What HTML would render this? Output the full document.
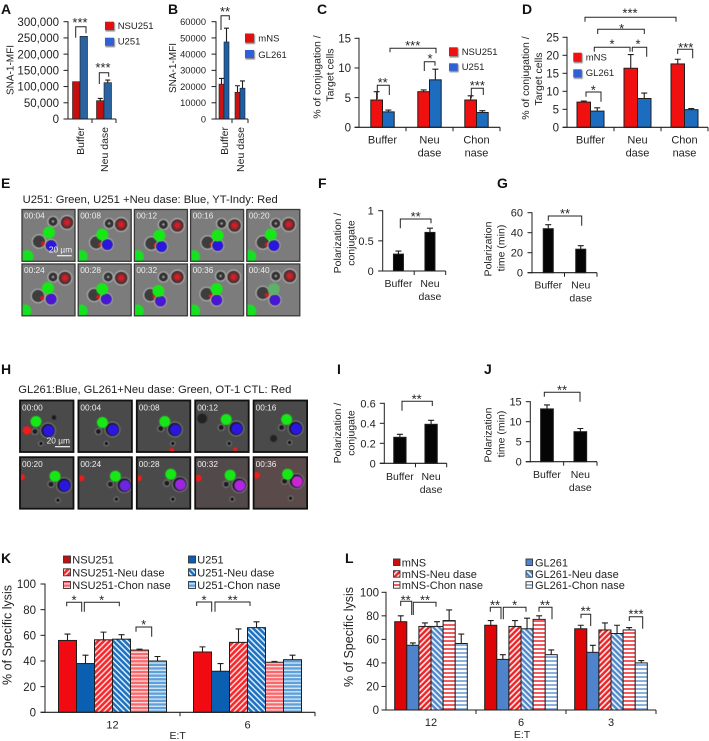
<!DOCTYPE html>
<html lang="en">
<head>
<meta charset="utf-8">
<title>Multi-panel lysis and conjugation figure</title>
<style>
html,body{margin:0;padding:0;background:#fff;width:709px;height:741px;overflow:hidden}
svg{display:block;filter:blur(0.35px)}
text{font-family:"Liberation Sans",Arial,sans-serif;fill:#222}
</style>
</head>
<body>
<svg id="fig" xmlns="http://www.w3.org/2000/svg" width="709" height="741" viewBox="0 0 709 741">
<defs>
<pattern id="hRedDiag" width="4" height="4" patternUnits="userSpaceOnUse" patternTransform="rotate(45)"><rect width="4" height="4" fill="#f6282c"/><rect width="1.5" height="4" fill="#ffd8d8"/></pattern>
<pattern id="hBlueDiag" width="4" height="4" patternUnits="userSpaceOnUse" patternTransform="rotate(-45)"><rect width="4" height="4" fill="#1f70bd"/><rect width="1.5" height="4" fill="#d8ecff"/></pattern>
<pattern id="hRedH" width="4" height="3.6" patternUnits="userSpaceOnUse"><rect width="4" height="3.6" fill="#f9686c"/><rect width="4" height="1.3" fill="#ffd9d9"/></pattern>
<pattern id="hBlueH" width="4" height="3.6" patternUnits="userSpaceOnUse"><rect width="4" height="3.6" fill="#5ea0da"/><rect width="4" height="1.3" fill="#d6e9f8"/></pattern>
<pattern id="lRedDiag" width="4" height="4" patternUnits="userSpaceOnUse" patternTransform="rotate(45)"><rect width="4" height="4" fill="#ee2024"/><rect width="1.7" height="4" fill="#ffe4e4"/></pattern>
<pattern id="lBlueDiag" width="4" height="4" patternUnits="userSpaceOnUse" patternTransform="rotate(-45)"><rect width="4" height="4" fill="#4f86ca"/><rect width="1.7" height="4" fill="#eaf2fb"/></pattern>
<pattern id="lRedH" width="4" height="4" patternUnits="userSpaceOnUse"><rect width="4" height="4" fill="#fff"/><rect width="4" height="2" fill="#f45a5e"/></pattern>
<pattern id="lBlueH" width="4" height="4" patternUnits="userSpaceOnUse"><rect width="4" height="4" fill="#fff"/><rect width="4" height="2" fill="#8bb0dc"/></pattern>
<filter id="soft" x="-30%" y="-30%" width="160%" height="160%"><feGaussianBlur stdDeviation="0.6"/></filter>
<filter id="softer" x="-40%" y="-40%" width="180%" height="180%"><feGaussianBlur stdDeviation="1"/></filter>
</defs>
</svg>
<script>
// ---------- Chart data ----------
const aCategories = ["Buffer", "Neu dase"];
const aNsu = [115000, 56500];
const aNsuErr = [0, 7000];
const aU = [255000, 112000];
const aUErr = [0, 8000];
const aTicks = [0, 50000, 100000, 150000, 200000, 250000, 300000];

const bCategories = ["Buffer", "Neu dase"];
const bMns = [21500, 16500];
const bMnsErr = [3500, 4000];
const bGl = [47500, 19000];
const bGlErr = [8500, 4500];
const bTicks = [0, 10000, 20000, 30000, 40000, 50000, 60000];

const cCategories = ["Buffer", "Neu dase", "Chon nase"];
const cNsu = [4.6, 6, 4.6];
const cNsuErr = [1.4, 0.3, 0.7];
const cU = [2.6, 8, 2.5];
const cUErr = [0.3, 1.8, 0.3];
const cTicks = [0, 5, 10, 15];

const dCategories = ["Buffer", "Neu dase", "Chon nase"];
const dMns = [7, 16.4, 17.6];
const dMnsErr = [0.3, 3.8, 1.3];
const dGl = [4.5, 8, 4.9];
const dGlErr = [0.9, 1.5, 0.3];
const dTicks = [0, 5, 10, 15, 20, 25];

const fCategories = ["Buffer", "Neu dase"];
const fValues = [0.28, 0.64];
const fErr = [0.05, 0.07];
const fTicks = [0, 0.5, 1];

const gCategories = ["Buffer", "Neu dase"];
const gValues = [44, 23.5];
const gErr = [4, 3.5];
const gTicks = [0, 20, 40, 60];

const iCategories = ["Buffer", "Neu dase"];
const iValues = [0.26, 0.39];
const iErr = [0.03, 0.04];
const iTicks = [0, 0.2, 0.4, 0.6];

const jCategories = ["Buffer", "Neu dase"];
const jValues = [13.2, 7.5];
const jErr = [1, 0.8];
const jTicks = [0, 5, 10, 15];

const kCategories = ["12", "6"];
const kNsu = [56, 47];
const kNsuErr = [5, 4];
const kU = [38, 32];
const kUErr = [6.5, 6];
const kNsuNeu = [56.5, 54.5];
const kNsuNeuErr = [6, 10.5];
const kUNeu = [57, 66];
const kUNeuErr = [3.5, 4.5];
const kNsuChon = [48.5, 39];
const kNsuChonErr = [0.7, 0.7];
const kUChon = [40, 41];
const kUChonErr = [3.5, 3.5];
const kTicks = [0, 20, 40, 60, 80, 100];

const lCategories = ["12", "6", "3"];
const lMns = [75, 72, 69];
const lMnsErr = [5, 4, 3];
const lGl = [55, 43, 49];
const lGlErr = [2, 4, 6];
const lMnsNeu = [71, 71, 68];
const lMnsNeuErr = [3, 5, 6];
const lGlNeu = [71, 69, 65];
const lGlNeuErr = [4, 9, 7];
const lMnsChon = [76, 77, 68];
const lMnsChonErr = [9, 3, 2];
const lGlChon = [56.5, 47, 40];
const lGlChonErr = [8, 4, 2];
const lTicks = [0, 20, 40, 60, 80, 100];

// ---------- Drawing helpers ----------
const NS = "http://www.w3.org/2000/svg";
const fig = document.getElementById("fig");

function mk(tag, parent, name, attrs) {
  const el = document.createElementNS(NS, tag);
  
  
  for (const k in attrs) el.setAttribute(k, attrs[k]);
  parent.appendChild(el);
  return el;
}
function txt(parent, name, str, x, y, size, opts) {
  const o = opts || {};
  const attrs = { x: x, y: y, "font-size": size };
  if (o.anchor) attrs["text-anchor"] = o.anchor;
  if (o.weight) attrs["font-weight"] = o.weight;
  if (o.fill) attrs.style = "fill:" + o.fill;
  if (o.rotate) attrs.transform = "rotate(-90 " + x + " " + y + ")";
  if (o.len) { attrs.textLength = o.len; attrs.lengthAdjust = "spacingAndGlyphs"; }
  const t = mk("text", parent, name, attrs);
  t.textContent = str;
  return t;
}
function slug(s) { return String(s).toLowerCase().replace(/[^a-z0-9]+/g, "-"); }

function barChart(cfg) {
  const g = mk("g", fig, cfg.id + "-chart", {});
  const yOf = v => cfg.y0 + (v / cfg.max) * (cfg.y1 - cfg.y0);
  const band = (cfg.x1 - cfg.x0) / cfg.categories.length;
  const xC = i => cfg.x0 + band * (i + 0.5);
  const n = cfg.series.length;
  const ink = cfg.ink || "#1e1e1e";
  const tickLen = 4.5;
  const gap = cfg.tickGap === undefined ? 9 : cfg.tickGap;

  cfg.series.forEach((s, si) => {
    s.values.forEach((v, i) => {
      const bx = xC(i) + (si - n / 2) * cfg.barW;
      const top = yOf(v);
      const barName = cfg.id + "-bar-" + slug(s.name) + "-" + slug(cfg.categories[i]);
      mk("rect", g, barName, { x: bx, y: top, width: cfg.barW, height: yOf(0) - top, fill: s.fill, stroke: ink, "stroke-width": cfg.barStroke === undefined ? 1 : cfg.barStroke });
      const e = s.err[i];
      if (e > 0) {
        const cx = bx + cfg.barW / 2;
        const ye = yOf(v + e);
        const capW = cfg.capW || 6;
        mk("path", g, barName + "-error-bar", { d: "M" + cx + " " + top + "V" + ye + "M" + (cx - capW / 2) + " " + ye + "H" + (cx + capW / 2), stroke: ink, "stroke-width": 1.1, fill: "none" });
      }
    });
  });

  // axes
  mk("path", g, cfg.id + "-y-axis", { d: "M" + cfg.x0 + " " + (cfg.y1 - 0.5) + "V" + (cfg.y0 + 0.5), stroke: ink, "stroke-width": 1, fill: "none" });
  mk("path", g, cfg.id + "-x-axis", { d: "M" + (cfg.x0 - tickLen) + " " + cfg.y0 + "H" + cfg.x1, stroke: ink, "stroke-width": 1.1, fill: "none" });
  cfg.ticks.forEach(t => {
    const y = yOf(t);
    mk("path", g, cfg.id + "-y-tick-" + slug(t), { d: "M" + (cfg.x0 - tickLen) + " " + y + "H" + cfg.x0, stroke: ink, "stroke-width": 1, fill: "none" });
    const label = cfg.format ? cfg.format(t) : String(t);
    txt(g, cfg.id + "-y-tick-label-" + slug(t), label, cfg.x0 - gap, y + cfg.tickSize * 0.36, cfg.tickSize, { anchor: "end" });
  });
  cfg.categories.forEach((c, i) => {
    const tx = cfg.x0 + band * (i + 1);
    mk("path", g, cfg.id + "-x-tick-" + i, { d: "M" + tx + " " + cfg.y0 + "v4", stroke: ink, "stroke-width": 1, fill: "none" });
    const nm = cfg.id + "-category-" + slug(c);
    const cx = xC(i);
    if (cfg.rotateCats) {
      txt(g, nm, c, cx + 4, cfg.y0 + 8, cfg.catSize, { anchor: "end", rotate: true });
    } else if (cfg.wrapCats) {
      const parts = c.split(" ");
      parts.forEach((p, k) => {
        txt(g, nm + "-line-" + k, p, cx, cfg.y0 + cfg.catDy + k * 13, cfg.catSize, { anchor: "middle" });
      });
    } else {
      txt(g, nm, c, cx, cfg.y0 + cfg.catDy, cfg.catSize, { anchor: "middle" });
    }
  });
  return g;
}
function bracket(name, x1, x2, yTop, yL, yR, stars, sx, sy) {
  const g = mk("g", fig, name, {});
  mk("path", g, name + "-line", { d: "M" + x1 + " " + yL + "V" + yTop + "H" + x2 + "V" + yR, stroke: "#222", "stroke-width": 1, fill: "none" });
  txt(g, name + "-stars", stars, sx, sy + 7, 13, { anchor: "middle" });
}
function legendEntry(name, label, sx, sy, sw, sh, fill, tx, ty, size, shadow) {
  const g = mk("g", fig, name, {});
  if (shadow) mk("rect", g, name + "-swatch-shadow", { x: sx + 0.5, y: sy + 1, width: sw + 0.5, height: sh + 0.5, fill: "#888", filter: "url(#soft)" });
  mk("rect", g, name + "-swatch", { x: sx, y: sy, width: sw, height: sh, fill: fill, stroke: shadow ? "none" : "#333", "stroke-width": 0.9 });
  txt(g, name + "-label", label, tx, ty, size);
}
function rotLabel(name, str, xBase, yCenter, size) {
  txt(fig, name, str, xBase, yCenter, size, { anchor: "middle", rotate: true });
}
function letter(ch, x, y) {
  txt(fig, "panel-letter-" + ch.toLowerCase(), ch, x, y, 14, { weight: "bold", fill: "#111" });
}

// ---------- Microscopy frames ----------
let clipCount = 0;
function frame(set, idx, x, y, w, h, cfg, c) {
  const name = set + "-frame-" + c.t.replace(":", "-");
  const g = mk("g", fig, name, {});
  const cid = "clip" + (clipCount++);
  const cp = mk("clipPath", g, name + "-clip", { id: cid });
  mk("rect", cp, name + "-clip-rect", { x: x, y: y, width: w, height: h });
  mk("rect", g, name + "-background", { x: x, y: y, width: w, height: h, fill: c.bg || cfg.bg });
  const inner = mk("g", g, name + "-cells", { "clip-path": "url(#" + cid + ")" });
  const blob = (nm, cx, cy, r, fill, extra) => {
    const a = { cx: x + cx, cy: y + cy, r: r, fill: fill, filter: "url(#soft)" };
    if (extra) for (const k in extra) a[k] = extra[k];
    mk("circle", inner, name + "-" + nm, a);
  };
  (c.extras || []).forEach((e, i) => blob("extra-" + i, e[0], e[1], e[2], e[3]));
  // small dark cell
  blob("small-cell", c.s[0], c.s[1], cfg.sr, cfg.sFill, { stroke: cfg.ring, "stroke-width": 0.7 });
  if (cfg.sInner) blob("small-cell-core", c.s[0], c.s[1], 1.2, "#aaa");
  // effector cell
  blob("effector-cell", c.d[0], c.d[1], cfg.dr, cfg.dFill, { stroke: cfg.ring, "stroke-width": 0.7 });
  if (cfg.redInDark) blob("effector-granule", c.d[0] + 4, c.d[1] + 2, 2, "#e01818");
  // target cells
  blob("blue-cell-body", c.b[0], c.b[1], cfg.br, cfg.bFill, { stroke: cfg.ring, "stroke-width": 0.7 });
  blob("blue-cell-dye", c.b[0] + cfg.bOff, c.b[1] + cfg.bOff * 0.6, cfg.br - cfg.bIn, c.bc || "#2a18e0");
  blob("green-cell", c.g[0], c.g[1], cfg.gr, c.gc || "#18e818");
  if (c.r) blob("red-cell", c.r[0], c.r[1], c.r[2] || 7, c.r[2] ? "#f01c1c" : cfg.redFill, c.r[2] ? null : { stroke: cfg.ring, "stroke-width": 0.7 });
  if (c.rCore) mk("circle", inner, name + "-red-core", { cx: x + c.r[0], cy: y + c.r[1], r: 3.6, fill: "#d81c28", filter: "url(#softer)" });
  if (c.corner) blob("corner-green", c.corner[0], c.corner[1], 6.5, "#18e020");
  mk("rect", g, name + "-border", { x: x, y: y, width: w, height: h, fill: "none", stroke: cfg.border, "stroke-width": cfg.bw });
  txt(g, name + "-time", c.t, x + 2, y + cfg.ty, 8.3, { fill: "#eeeeee" });
}

const eCfg = { bg: "#7c7c7c", border: "#3a3a3a", bw: 1.3, ring: "#cfcfcf", sFill: "#333", dFill: "#3c3c3c", bFill: "#2a2a40", sr: 5.2, dr: 6.8, br: 6, bIn: 0.8, bOff: 0.3, gr: 6, ty: 9, sInner: true, redInDark: true, redFill: "#4a3232" };
const eFrames = [
  { t: "00:04", g: [27, 23], b: [29, 36], d: [17, 32], s: [31, 12], r: [45, 13], rCore: 1, corner: [5, 47] },
  { t: "00:08", g: [24, 25], b: [29, 35], d: [18, 33], s: [31, 14], r: [43, 15], rCore: 1, corner: [3, 47] },
  { t: "00:12", g: [25, 26], b: [27, 37], d: [17, 34], s: [29, 15], r: [43, 16], rCore: 1, corner: [3, 47] },
  { t: "00:16", g: [27, 26], b: [27, 36], d: [17, 33], s: [31, 14], r: [44, 16], rCore: 1, corner: [3, 47] },
  { t: "00:20", g: [24, 25], b: [27, 36], d: [16, 33], s: [29, 14], r: [42, 15], rCore: 1, corner: [3, 47] },
  { t: "00:24", g: [26, 24], b: [29, 35], d: [16, 32], s: [31, 13], r: [43, 14], rCore: 1, corner: [3, 47], bc: "#4a18d8" },
  { t: "00:28", g: [24, 25], b: [28, 35], d: [16, 31], s: [30, 13], r: [43, 14], rCore: 1, corner: [3, 47], bc: "#4a18d8" },
  { t: "00:32", g: [24, 27], b: [26, 37], d: [16, 31], s: [29, 13], r: [43, 13], rCore: 1, corner: [3, 47], bc: "#4a18d8" },
  { t: "00:36", g: [26, 25], b: [26, 36], d: [16, 30], s: [30, 12], r: [43, 13], rCore: 1, corner: [3, 47], bc: "#4a18d8" },
  { t: "00:40", g: [27, 25], b: [28, 36], d: [16, 29], s: [29, 12], r: [43, 12], rCore: 1, corner: [3, 47], gc: "#5eb06a", bc: "#4a18d8" }
];
eFrames.forEach((f, i) => {
  const col = i % 5, row = Math.floor(i / 5);
  frame("e", i, 22 + col * 56.2, 209.5 + row * 54.5, 53, 51.8, eCfg, f);
});

const hCfg = { bg: "#4a4a4a", border: "#111", bw: 1.8, ring: "#8c8c8c", sFill: "#0c0c0c", dFill: "#1c1c1c", bFill: "#1c1c28", sr: 2.3, dr: 3.2, br: 7.5, bIn: 2, bOff: 0.7, gr: 5.5, ty: 10, sInner: false, redInDark: false, redFill: "#f01818" };
const hFrames = [
  { t: "00:00", g: [16, 21], b: [28, 30], d: [15, 31], s: [21, 43], r: [7, 30, 4.2], extras: [[34, 17, 2.2, "#181818"]] },
  { t: "00:04", g: [24, 22], b: [34, 29], d: [20, 31], s: [28, 43] },
  { t: "00:08", g: [28, 21], b: [38, 29], d: [24, 28], s: [36, 43], r: [35, 50, 2.5] },
  { t: "00:12", g: [31, 19], b: [41, 28], d: [26, 27], s: [34, 43], r: [40, 49, 2], extras: [[7, 18, 5, "#222"]] },
  { t: "00:16", g: [33, 19], b: [42, 28], d: [28, 27], s: [36, 42], extras: [[20, 38, 3.5, "#222"]] },
  { t: "00:20", g: [35, 19], b: [44, 28], d: [31, 27], s: [38, 43], r: [2, 20, 3] },
  { t: "00:24", g: [37, 19], b: [46, 28], d: [32, 27], s: [38, 42], r: [3, 21, 3], bc: "#6a28e0" },
  { t: "00:28", g: [34, 17], b: [43, 27], d: [30, 26], s: [36, 42], r: [2, 21, 3], bc: "#9a28e0" },
  { t: "00:32", g: [35, 18], b: [44, 28], d: [31, 27], s: [37, 42], r: [3, 21, 3.4], bc: "#b028e0", bg: "#524a4a" },
  { t: "00:36", g: [34, 17], b: [43, 24], d: [31, 24], s: [37, 41], r: [3, 18, 3.4], bc: "#c828d0", bg: "#5a4a4a" }
];
hFrames.forEach((f, i) => {
  const col = i % 5, row = Math.floor(i / 5);
  frame("h", i, 20 + col * 58.4, 400.5 + row * 56.7, 53.5, 51.5, hCfg, f);
});

// scale bars
mk("path", fig, "e-scale-bar", { d: "M57 255.7H71.7", stroke: "#f2f2f2", "stroke-width": 1.2, fill: "none" });
txt(fig, "e-scale-bar-label", "20 µm", 60.5, 252.7, 8.3, { anchor: "middle", fill: "#f2f2f2" });
mk("path", fig, "h-scale-bar", { d: "M55 446.7H70", stroke: "#f2f2f2", "stroke-width": 1.2, fill: "none" });
txt(fig, "h-scale-bar-label", "20 µm", 58.3, 443.7, 8.3, { anchor: "middle", fill: "#f2f2f2" });

txt(fig, "e-title", "U251: Green, U251 +Neu dase: Blue, YT-Indy: Red", 22.7, 203, 11, { len: 255 });
txt(fig, "h-title", "GL261:Blue, GL261+Neu dase: Green, OT-1 CTL: Red", 18.3, 393, 11, { len: 273 });

// ---------- Charts ----------
const RA = "#c40f0f", BA = "#2b63a0";
barChart({ id: "a", x0: 68, x1: 116, y0: 119, y1: 21.7, max: 300000, ticks: aTicks, tickSize: 11.5, tickGap: 9, format: v => v.toLocaleString("en-US"), categories: aCategories, rotateCats: true, catSize: 10.5, barW: 7.5, capW: 5, barStroke: 0.6,
  series: [{ name: "NSU251", values: aNsu, err: aNsuErr, fill: RA }, { name: "U251", values: aU, err: aUErr, fill: BA }] });
barChart({ id: "b", x0: 216, x1: 248, y0: 119, y1: 21.7, max: 60000, ticks: bTicks, tickSize: 9.3, tickGap: 10, categories: bCategories, rotateCats: true, catSize: 10.5, barW: 5, capW: 5, barStroke: 0.6,
  series: [{ name: "mNS", values: bMns, err: bMnsErr, fill: "#c81414" }, { name: "GL261", values: bGl, err: bGlErr, fill: "#1c5fa5" }] });
barChart({ id: "c", x0: 359, x1: 500, y0: 127.3, y1: 38.3, max: 15, ticks: cTicks, tickSize: 11.5, tickGap: 8, categories: cCategories, wrapCats: true, catDy: 16, catSize: 11, barW: 11.7, capW: 6,
  series: [{ name: "NSU251", values: cNsu, err: cNsuErr, fill: "#f01010" }, { name: "U251", values: cU, err: cUErr, fill: "#1c6cc0" }] });
barChart({ id: "d", x0: 567, x1: 708, y0: 127.3, y1: 37.3, max: 25, ticks: dTicks, tickSize: 11.5, tickGap: 8, categories: dCategories, wrapCats: true, catDy: 16, catSize: 11, barW: 13.5, capW: 6,
  series: [{ name: "mNS", values: dMns, err: dMnsErr, fill: "#f01010" }, { name: "GL261", values: dGl, err: dGlErr, fill: "#1c6cc0" }] });
barChart({ id: "f", x0: 382.7, x1: 445.7, y0: 271, y1: 210.7, max: 1, ticks: fTicks, tickSize: 11, tickGap: 9, categories: fCategories, wrapCats: true, catDy: 16, catSize: 10.5, barW: 10, capW: 6,
  series: [{ name: "Polarization", values: fValues, err: fErr, fill: "#050505" }] });
barChart({ id: "g", x0: 532, x1: 597, y0: 272.7, y1: 212.7, max: 60, ticks: gTicks, tickSize: 11, tickGap: 9, categories: gCategories, wrapCats: true, catDy: 16, catSize: 10.5, barW: 10, capW: 6,
  series: [{ name: "Polarization time", values: gValues, err: gErr, fill: "#050505" }] });
barChart({ id: "i", x0: 384.3, x1: 446.7, y0: 463.3, y1: 403.3, max: 0.6, ticks: iTicks, tickSize: 11, tickGap: 8.6, categories: iCategories, wrapCats: true, catDy: 16.5, catSize: 10.5, barW: 12.3, capW: 6,
  series: [{ name: "Polarization", values: iValues, err: iErr, fill: "#050505" }] });
barChart({ id: "j", x0: 530.3, x1: 597, y0: 461.7, y1: 401.7, max: 15, ticks: jTicks, tickSize: 11, tickGap: 8.6, categories: jCategories, wrapCats: true, catDy: 16.5, catSize: 10.5, barW: 12.7, capW: 6,
  series: [{ name: "Polarization time", values: jValues, err: jErr, fill: "#050505" }] });
barChart({ id: "k", x0: 45, x1: 315, y0: 712.3, y1: 584, max: 100, ticks: kTicks, tickSize: 11.5, tickGap: 9, categories: kCategories, catDy: 16, catSize: 11, barW: 18, capW: 6,
  series: [
    { name: "NSU251", values: kNsu, err: kNsuErr, fill: "#f20a12" },
    { name: "U251", values: kU, err: kUErr, fill: "#0a5fb2" },
    { name: "NSU251-Neu dase", values: kNsuNeu, err: kNsuNeuErr, fill: "url(#hRedDiag)" },
    { name: "U251-Neu dase", values: kUNeu, err: kUNeuErr, fill: "url(#hBlueDiag)" },
    { name: "NSU251-Chon nase", values: kNsuChon, err: kNsuChonErr, fill: "url(#hRedH)" },
    { name: "U251-Chon nase", values: kUChon, err: kUChonErr, fill: "url(#hBlueH)" }
  ] });
barChart({ id: "l", x0: 386, x1: 656, y0: 710, y1: 592.3, max: 100, ticks: lTicks, tickSize: 11.5, tickGap: 7, categories: lCategories, catDy: 16, catSize: 11, barW: 12.1, capW: 6,
  series: [
    { name: "mNS", values: lMns, err: lMnsErr, fill: "#dd0505" },
    { name: "GL261", values: lGl, err: lGlErr, fill: "#4f84cc" },
    { name: "mNS-Neu dase", values: lMnsNeu, err: lMnsNeuErr, fill: "url(#lRedDiag)" },
    { name: "GL261-Neu dase", values: lGlNeu, err: lGlNeuErr, fill: "url(#lBlueDiag)" },
    { name: "mNS-Chon nase", values: lMnsChon, err: lMnsChonErr, fill: "url(#lRedH)" },
    { name: "GL261-Chon nase", values: lGlChon, err: lGlChonErr, fill: "url(#lBlueH)" }
  ] });

// ---------- Axis titles ----------
rotLabel("a-y-axis-title", "SNA-1-MFI", 13.5, 70, 10);
rotLabel("b-y-axis-title", "SNA-1-MFI", 176, 68, 10);
rotLabel("c-y-axis-title-line-1", "% of conjugation /", 320.5, 77, 10.5);
rotLabel("c-y-axis-title-line-2", "Target cells", 333.5, 75, 10.5);
rotLabel("d-y-axis-title-line-1", "% of conjugation /", 529, 78, 10.5);
rotLabel("d-y-axis-title-line-2", "Target cells", 542, 79, 10.5);
rotLabel("f-y-axis-title-line-1", "Polarization /", 341, 243, 10.5);
rotLabel("f-y-axis-title-line-2", "conjugate", 354.5, 243, 10.5);
rotLabel("g-y-axis-title-line-1", "Polarization", 491.5, 249, 10.5);
rotLabel("g-y-axis-title-line-2", "time (min)", 504.5, 248, 10.5);
rotLabel("i-y-axis-title-line-1", "Polarization /", 341, 433, 10.5);
rotLabel("i-y-axis-title-line-2", "conjugate", 354.5, 433, 10.5);
rotLabel("j-y-axis-title-line-1", "Polarization", 491.5, 435, 10.5);
rotLabel("j-y-axis-title-line-2", "time (min)", 504.5, 434, 10.5);
rotLabel("k-y-axis-title", "% of Specific lysis", 11.5, 635, 12.5);
rotLabel("l-y-axis-title", "% of Specific lysis", 353, 637, 12.5);
txt(fig, "k-x-axis-title", "E:T", 177.7, 739, 10.5, { anchor: "middle" });
txt(fig, "l-x-axis-title", "E:T", 522, 738, 10.5, { anchor: "middle" });

// ---------- Panel letters ----------
letter("A", 1, 14); letter("B", 168, 14); letter("C", 317, 14); letter("D", 522, 14);
letter("E", 1, 188); letter("F", 318, 188); letter("G", 497, 188);
letter("H", 1, 374); letter("I", 337, 374); letter("J", 484, 374);
letter("K", 1, 563); letter("L", 345, 563);

// ---------- Legends ----------
legendEntry("a-legend-nsu251", "NSU251", 105, 21.7, 9, 8.3, "#e01010", 117.7, 29, 9.5, true);
legendEntry("a-legend-u251", "U251", 105, 37.7, 9, 8, "#2f60d8", 117.7, 44.5, 9.5, true);
legendEntry("b-legend-mns", "mNS", 245, 33.5, 9, 9, "#e01010", 258.3, 41.7, 9.5, true);
legendEntry("b-legend-gl261", "GL261", 245, 50, 9, 8, "#2f60d8", 258.3, 58, 9.5, true);
legendEntry("c-legend-nsu251", "NSU251", 449, 47.3, 8.7, 8.7, "#f01010", 461.7, 55, 9.5, true);
legendEntry("c-legend-u251", "U251", 449, 63.3, 8.7, 7.5, "#2f60d8", 461.7, 70, 9.5, true);
legendEntry("d-legend-mns", "mNS", 573.3, 52.7, 8.4, 9, "#f01010", 585.7, 60.3, 9.5, true);
legendEntry("d-legend-gl261", "GL261", 573.3, 69.3, 8.4, 8, "#2f60d8", 585.7, 76, 9.5, true);

const kRows = [559.5, 572.3, 585];
legendEntry("k-legend-nsu251", "NSU251", 63.5, kRows[0] - 3.5, 7, 7, "#c01010", 72.3, kRows[0] + 4, 11);
legendEntry("k-legend-nsu251-neu", "NSU251-Neu dase", 63.5, kRows[1] - 3.5, 7, 7, "url(#hRedDiag)", 72.3, kRows[1] + 4, 11);
legendEntry("k-legend-nsu251-chon", "NSU251-Chon nase", 63.5, kRows[2] - 3.5, 7, 7, "url(#hRedH)", 72.3, kRows[2] + 4, 11);
legendEntry("k-legend-u251", "U251", 188.5, kRows[0] - 3.5, 7, 7, "#0a5fb2", 197.3, kRows[0] + 4, 11);
legendEntry("k-legend-u251-neu", "U251-Neu dase", 188.5, kRows[1] - 3.5, 7, 7, "url(#hBlueDiag)", 197.3, kRows[1] + 4, 11);
legendEntry("k-legend-u251-chon", "U251-Chon nase", 188.5, kRows[2] - 3.5, 7, 7, "url(#hBlueH)", 197.3, kRows[2] + 4, 11);

const lRows = [562.3, 574, 585];
legendEntry("l-legend-mns", "mNS", 393.5, lRows[0] - 3.3, 6.5, 6.5, "#c81010", 401.7, lRows[0] + 4, 11);
legendEntry("l-legend-mns-neu", "mNS-Neu dase", 393.5, lRows[1] - 3.3, 6.5, 6.5, "url(#lRedDiag)", 401.7, lRows[1] + 4, 11);
legendEntry("l-legend-mns-chon", "mNS-Chon nase", 393.5, lRows[2] - 3.3, 6.5, 6.5, "url(#lRedH)", 401.7, lRows[2] + 4, 11);
legendEntry("l-legend-gl261", "GL261", 526, lRows[0] - 3.3, 6.5, 6.5, "#4f84cc", 535, lRows[0] + 4, 11);
legendEntry("l-legend-gl261-neu", "GL261-Neu dase", 526, lRows[1] - 3.3, 6.5, 6.5, "url(#lBlueDiag)", 535, lRows[1] + 4, 11);
legendEntry("l-legend-gl261-chon", "GL261-Chon nase", 526, lRows[2] - 3.3, 6.5, 6.5, "url(#lBlueH)", 535, lRows[2] + 4, 11);

// ---------- Significance brackets ----------
bracket("a-sig-buffer", 75.7, 86, 26.7, 37.7, 33.3, "***", 80, 20);
bracket("a-sig-neu", 99.3, 108.7, 72.7, 84, 76.7, "***", 103, 65);
bracket("b-sig-buffer", 221, 229.3, 15.7, 30, 20, "**", 225, 9);
bracket("c-sig-buffer-neu", 390, 436, 48.3, 52.3, 53.3, "***", 412.7, 43);
bracket("c-sig-neu", 424.3, 435, 61.7, 71, 65.7, "*", 430, 56);
bracket("c-sig-buffer", 377.3, 389.3, 85.3, 99, 95, "**", 382.7, 80);
bracket("c-sig-chon", 471.3, 483.3, 88.3, 98.3, 95, "***", 477.3, 83);
bracket("d-sig-mns-chon", 585, 676, 17.3, 21.7, 21.7, "***", 630, 10.7);
bracket("d-sig-gl-neu", 597.7, 644.3, 29.3, 34, 34, "*", 621.7, 26);
bracket("d-sig-mns-neu", 594.3, 630, 47.3, 51.7, 51.7, "*", 612, 41.7);
bracket("d-sig-neu", 632.3, 646.7, 47.3, 51.7, 56.7, "*", 638, 41.7);
bracket("d-sig-chon", 677.7, 692.7, 49.3, 54, 58.3, "***", 685.7, 45);
bracket("d-sig-buffer", 586, 601, 92, 96.7, 101.7, "*", 593.3, 87.7);
bracket("f-sig", 400.3, 431, 219, 228.3, 223.3, "**", 415.7, 214);
bracket("g-sig", 548.3, 581.7, 216, 220.7, 225.7, "**", 565, 211);
bracket("i-sig", 402, 432.3, 401.3, 410.7, 406, "**", 416.7, 396.7);
bracket("j-sig", 544.3, 580, 392.3, 396.7, 401.7, "**", 562, 387.7);
bracket("k-sig-12-a", 66.7, 81.7, 602.3, 606.3, 611.7, "*", 74, 597.7);
bracket("k-sig-12-b", 84.3, 119.3, 602.3, 611.7, 606.3, "*", 101.7, 597.7);
bracket("k-sig-12-c", 136, 151.7, 627, 631.7, 636.7, "*", 143.7, 622);
bracket("k-sig-6-a", 196.7, 211.7, 602, 606, 611.7, "*", 204, 597.7);
bracket("k-sig-6-b", 215, 250, 602, 611.7, 606, "**", 232.7, 597.7);
bracket("l-sig-12-a", 400.7, 411.7, 601.3, 606, 615, "**", 405.7, 597.3);
bracket("l-sig-12-b", 413.3, 436, 602.3, 615, 606.7, "**", 425, 597.3);
bracket("l-sig-6-a", 490.3, 501, 607.3, 611.7, 619.3, "**", 495, 602.3);
bracket("l-sig-6-b", 503.3, 526, 607.3, 619.3, 611.7, "*", 514.7, 602.3);
bracket("l-sig-6-c", 539, 552, 607.3, 611.7, 619.3, "**", 545, 602.3);
bracket("l-sig-3-a", 581, 590.7, 614.3, 618.3, 626, "**", 585.7, 608.3);
bracket("l-sig-3-b", 629.3, 642.7, 616.7, 621, 628.7, "***", 636, 611.3);
</script>
</body>
</html>
